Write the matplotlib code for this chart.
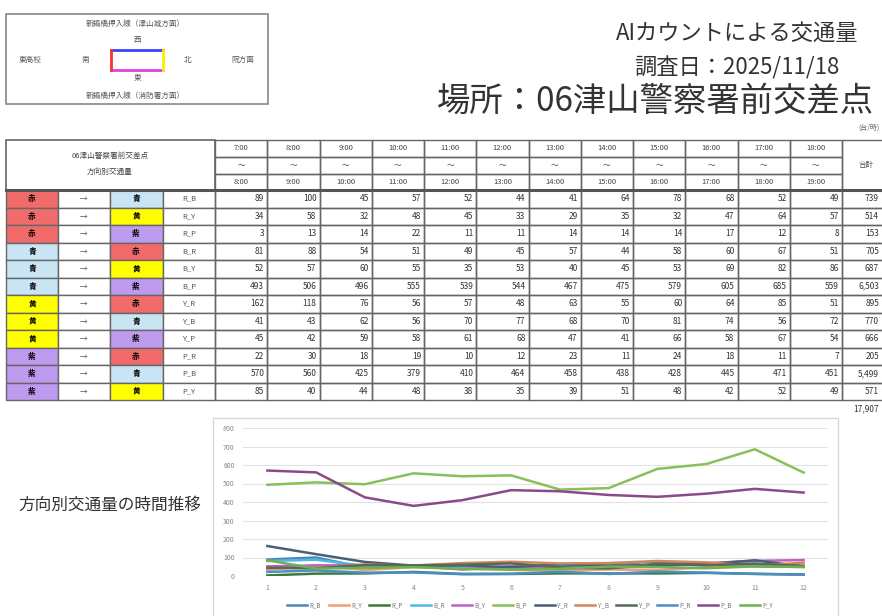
import numpy as np
import matplotlib
matplotlib.use("Agg")
import matplotlib.pyplot as plt
from matplotlib.patches import Rectangle

plt.rcParams['font.family'] = ['Noto Sans CJK JP', 'DejaVu Sans']

# ---------------- data ----------------
time_from = ["7:00", "8:00", "9:00", "10:00", "11:00", "12:00", "13:00", "14:00", "15:00", "16:00", "17:00", "18:00"]
time_to = ["8:00", "9:00", "10:00", "11:00", "12:00", "13:00", "14:00", "15:00", "16:00", "17:00", "18:00", "19:00"]
routes = ["R_B", "R_Y", "R_P", "B_R", "B_Y", "B_P", "Y_R", "Y_B", "Y_P", "P_R", "P_B", "P_Y"]
route_from = ["R", "R", "R", "B", "B", "B", "Y", "Y", "Y", "P", "P", "P"]
route_to = ["B", "Y", "P", "R", "Y", "P", "R", "B", "P", "R", "B", "Y"]

R_B = [89, 100, 45, 57, 52, 44, 41, 64, 78, 68, 52, 49]
R_Y = [34, 58, 32, 48, 45, 33, 29, 35, 32, 47, 64, 57]
R_P = [3, 13, 14, 22, 11, 11, 14, 14, 14, 17, 12, 8]
B_R = [81, 88, 54, 51, 49, 45, 57, 44, 58, 60, 67, 51]
B_Y = [52, 57, 60, 55, 35, 53, 40, 45, 53, 69, 82, 86]
B_P = [493, 506, 496, 555, 539, 544, 467, 475, 579, 605, 685, 559]
Y_R = [162, 118, 76, 56, 57, 48, 63, 55, 60, 64, 85, 51]
Y_B = [41, 43, 62, 56, 70, 77, 68, 70, 81, 74, 56, 72]
Y_P = [45, 42, 59, 58, 61, 68, 47, 41, 66, 58, 67, 54]
P_R = [22, 30, 18, 19, 10, 12, 23, 11, 24, 18, 11, 7]
P_B = [570, 560, 425, 379, 410, 464, 458, 438, 428, 445, 471, 451]
P_Y = [85, 40, 44, 48, 38, 35, 39, 51, 48, 42, 52, 49]
series = [R_B, R_Y, R_P, B_R, B_Y, B_P, Y_R, Y_B, Y_P, P_R, P_B, P_Y]

line_colors = ['#4A86B8', '#F0A070', '#3A7A3A', '#50B8E8', '#C060C8', '#88C05A',
               '#4A5E78', '#D0885A', '#556B55', '#4A8EC8', '#8A4A8A', '#6FB04F']
cell_colors = {'R': '#F26B6B', 'B': '#C8E4F5', 'Y': '#FFFF00', 'P': '#BE9BEE'}
cell_chars = {'R': '赤', 'B': '青', 'Y': '黄', 'P': '紫'}

# ---------------- figure ----------------
W, H = 882, 616
fig = plt.figure(figsize=(W / 100, H / 100), dpi=100)
bg = fig.add_axes([0, 0, 1, 1])
bg.set_xlim(0, W)
bg.set_ylim(H, 0)
bg.axis('off')

# compass box
bg.add_patch(Rectangle((6, 14), 262, 90, fill=False, ec='#888888', lw=1.2))
bg.text(135, 24, "新鍋橋押入線（津山城方面）", fontsize=5.5, ha='center', va='center', color='#555')
bg.text(135, 96, "新鍋橋押入線（消防署方面）", fontsize=5.5, ha='center', va='center', color='#555')
bg.text(137, 40, "西", fontsize=5.5, ha='center', va='center', color='#555')
bg.text(137, 78, "東", fontsize=5.5, ha='center', va='center', color='#555')
bg.text(30, 60, "東高校", fontsize=5.5, ha='center', va='center', color='#555')
bg.text(85, 60, "南", fontsize=5.5, ha='center', va='center', color='#555')
bg.text(188, 60, "北", fontsize=5.5, ha='center', va='center', color='#555')
bg.text(243, 60, "院方面", fontsize=5.5, ha='center', va='center', color='#555')
bg.plot([111, 163], [50, 50], color='#4040FF', lw=2)
bg.plot([111, 163], [70, 70], color='#E040E0', lw=2)
bg.plot([111, 111], [50, 70], color='#FF3030', lw=2)
bg.plot([163, 163], [50, 70], color='#FFEE00', lw=2)

# titles
bg.text(737, 33, "AIカウントによる交通量", fontsize=16, ha='center', va='center', color='#333')
bg.text(737, 68, "調査日：2025/11/18", fontsize=16, ha='center', va='center', color='#333')
bg.text(437, 101, "場所：06津山警察署前交差点", fontsize=24, ha='left', va='center', color='#333')
bg.text(880, 128, "(台/時)", fontsize=5, ha='right', va='center', color='#666')

# table geometry
time_edges = np.linspace(215, 842, 13)
total_right = 900
hdr = [140, 157, 174, 190]
row_h = 17.5
row_y = [190 + i * row_h for i in range(len(routes) + 1)]
lc = '#666666'

# header
bg.add_patch(Rectangle((6, 140), 209, 50, fill=False, ec=lc, lw=1.2))
bg.text(110, 156, "06津山警察署前交差点", fontsize=5.5, ha='center', va='center', color='#444')
bg.text(110, 172, "方向別交通量", fontsize=5.5, ha='center', va='center', color='#444')
for j in range(12):
    x0, x1 = time_edges[j], time_edges[j + 1]
    xc = (x0 + x1) / 2
    for k in range(3):
        bg.add_patch(Rectangle((x0, hdr[k]), x1 - x0, hdr[k + 1] - hdr[k], fill=False, ec=lc, lw=1.0))
    bg.text(xc, 148.5, time_from[j], fontsize=5.5, ha='center', va='center', color='#444')
    bg.text(xc, 165.5, "～", fontsize=5.5, ha='center', va='center', color='#444')
    bg.text(xc, 182, time_to[j], fontsize=5.5, ha='center', va='center', color='#444')
bg.add_patch(Rectangle((842, 140), total_right - 842, 50, fill=False, ec=lc, lw=1.0))
bg.text(866, 165, "合計", fontsize=5.5, ha='center', va='center', color='#444')
bg.plot([6, total_right], [190, 190], color='#555', lw=2.2)

# rows
grand = 0
for i, name in enumerate(routes):
    y0, y1 = row_y[i], row_y[i + 1]
    yc = (y0 + y1) / 2
    fc1 = cell_colors[route_from[i]]
    fc2 = cell_colors[route_to[i]]
    bg.add_patch(Rectangle((6, y0), 52, row_h, fc=fc1, ec=lc, lw=1.0))
    bg.add_patch(Rectangle((58, y0), 52, row_h, fc='white', ec=lc, lw=1.0))
    bg.add_patch(Rectangle((110, y0), 53, row_h, fc=fc2, ec=lc, lw=1.0))
    bg.add_patch(Rectangle((163, y0), 52, row_h, fc='white', ec=lc, lw=1.0))
    bg.text(32, yc, cell_chars[route_from[i]], fontsize=5.5, ha='center', va='center', weight='bold')
    bg.text(84, yc, "→", fontsize=5.5, ha='center', va='center', color='#555')
    bg.text(136, yc, cell_chars[route_to[i]], fontsize=5.5, ha='center', va='center', weight='bold')
    bg.text(189, yc, name, fontsize=5.5, ha='center', va='center', color='#555')
    vals = series[i]
    for j in range(12):
        x0, x1 = time_edges[j], time_edges[j + 1]
        bg.add_patch(Rectangle((x0, y0), x1 - x0, row_h, fill=False, ec=lc, lw=1.0))
        bg.text(x1 - 3, yc, f"{vals[j]}", fontsize=6, ha='right', va='center', color='#333')
    tot = sum(vals)
    grand += tot
    bg.add_patch(Rectangle((842, y0), total_right - 842, row_h, fill=False, ec=lc, lw=1.0))
    bg.text(879, yc, f"{tot:,}", fontsize=6, ha='right', va='center', color='#333')
bg.text(879, 409, f"{grand:,}", fontsize=6, ha='right', va='center', color='#333')

# chart section
bg.text(18, 505, "方向別交通量の時間推移", fontsize=12, ha='left', va='center', color='#333')
bg.add_patch(Rectangle((213, 418), 625, 210, fill=False, ec='#D8D8D8', lw=1.0))

ax = fig.add_axes([243 / W, (H - 576) / H, (828 - 243) / W, (576 - 428) / H])
x = np.arange(1, 13)
for name, vals, c in zip(routes, series, line_colors):
    ax.plot(x, vals, color=c, lw=1.8, label=name)
ax.set_xlim(0.5, 12.5)
ax.set_ylim(0, 800)
ax.set_yticks(range(0, 801, 100))
ax.set_xticks(x)
ax.grid(axis='y', color='#E3E3E3', lw=0.8)
ax.set_axisbelow(True)
for s in ax.spines.values():
    s.set_visible(False)
ax.tick_params(length=0, labelsize=5, colors='#888888', pad=6)
ax.patch.set_alpha(0)

fig.legend(loc='center', bbox_to_anchor=(530 / W, (H - 605) / H), ncol=12, frameon=False,
           fontsize=4.5, handlelength=3.2, columnspacing=1.2, handletextpad=0.4,
           labelcolor='#777777')

fig.savefig("out.png", dpi=100)
